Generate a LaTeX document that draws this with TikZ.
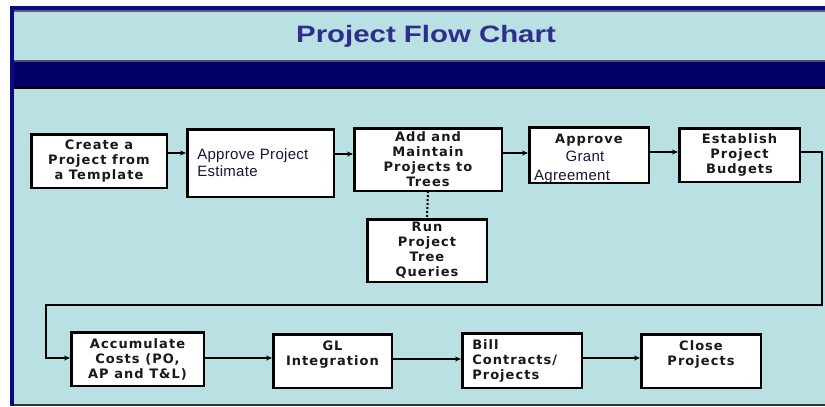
\documentclass[tikz,border=0pt]{standalone}
\usepackage{fontspec}
\setmainfont{Liberation Sans}
\newfontfamily\boxfont[LetterSpace=8]{DejaVu Sans Bold}
\newfontfamily\plainfont[LetterSpace=2]{Liberation Sans}
\usetikzlibrary{arrows.meta}
\definecolor{panelbg}{RGB}{185,224,227}
\definecolor{navyband}{RGB}{0,0,102}
\definecolor{navyedge}{RGB}{10,10,130}
\definecolor{titlecol}{RGB}{46,46,140}
\definecolor{boxtext}{RGB}{25,25,25}
\definecolor{navytext}{RGB}{22,22,60}
\tikzset{
  flowbox/.style={draw=black, line width=2.5pt, fill=white, inner sep=3pt,
    font=\boxfont\fontsize{13}{15}\selectfont, text=boxtext, align=center},
  plainbox/.style={flowbox, font=\plainfont\fontsize{15}{17}\selectfont, text=navytext, align=left, inner xsep=10pt},
  plaintext/.style={font=\plainfont\fontsize{15}{17}\selectfont, text=navytext},
  arr/.style={draw=black, line width=1.5pt, -{Stealth[length=6pt,width=5pt]}},
  dotlink/.style={draw=black, line width=2pt, dotted},
}
\begin{document}
\begin{tikzpicture}[x=1pt,y=-1pt]
\useasboundingbox (0,0) rectangle (825,407);
\fill[white] (0,0) rectangle (825,407);
% panel
\fill[navyedge] (10,6) rectangle (825,406);
\fill[panelbg] (14,10) rectangle (825,404);
\fill[gray!70!navyedge] (14,10) rectangle (825,12);
\fill[black!80] (14,404) rectangle (825,406);
% navy band
\fill[gray!60!navyband] (14,60) rectangle (825,62);
\fill[navyband] (14,62) rectangle (825,87);
\fill[black] (14,87) rectangle (825,89);
% title
\node[anchor=base, text=titlecol, font=\bfseries\fontsize{23.7}{28}\selectfont] (title) at (426,42) {\scalebox{1.24}[1]{Project Flow Chart}};
% top row
\node[flowbox, minimum width=135.5, minimum height=53.5] (c1) at (99,161) {Create a\\Project from\\a Template};
\node[plainbox, minimum width=146.5, minimum height=67.5, text width=126.5] (c2) at (260.5,163) {Approve Project\\Estimate};
\node[flowbox, minimum width=147.5, minimum height=62.5] (c3) at (428,159.5) {Add and\\Maintain\\Projects to\\Trees};
\node[flowbox, minimum width=119.5, minimum height=55.5] (c4) at (589,155) {};
\node[anchor=base, font=\boxfont\fontsize{13}{15}\selectfont, text=boxtext] (c4a) at (589,143) {Approve};
\node[anchor=base, plaintext] (c4b) at (585,161) {Grant};
\node[anchor=base west, inner xsep=0pt, plaintext] (c4c) at (534,180) {Agreement};
\node[flowbox, minimum width=120.5, minimum height=53.5] (c5) at (739.5,155) {Establish\\Project\\Budgets};
\node[flowbox, minimum width=119.5, minimum height=62.5] (run) at (427,250.5) {Run\\Project\\Tree\\Queries};
% bottom row
\node[flowbox, minimum width=132.5, minimum height=53.5] (b1) at (137.5,359) {Accumulate\\Costs (PO,\\AP and T\&L)};
\node[flowbox, minimum width=118.5, minimum height=53.5] (b2) at (332.5,361) {GL\\Integration\\\mbox{}};
\node[flowbox, align=left, inner xsep=10pt, text width=99.5, minimum width=119.5, minimum height=54.5] (b3) at (522,360.5) {Bill\\Contracts/\\Projects};
\node[flowbox, minimum width=119.5, minimum height=53.5] (b4) at (701,361) {Close\\Projects\\\mbox{}};
% connectors
\draw[arr] (c1.east |- 0,153) -- (c2.west |- 0,153);
\draw[arr] (c2.east |- 0,154) -- (c3.west |- 0,154);
\draw[arr] (c3.east |- 0,153) -- (c4.west |- 0,153);
\draw[arr] (c4.east |- 0,152) -- (c5.west |- 0,152);
\draw[dotlink] (c3.south |- 0,191) -- (run.north);
\coordinate (loopR) at (822,305);
\coordinate (loopL) at (46,305);
\draw[arr] (c5.east |- 0,152) -| (loopR) -- (loopL) |- (b1.west |- 0,358);
\draw[arr] (b1.east |- 0,358) -- (b2.west |- 0,358);
\draw[arr] (b2.east |- 0,359) -- (b3.west |- 0,359);
\draw[arr] (b3.east |- 0,358) -- (b4.west |- 0,358);
\end{tikzpicture}
\end{document}
